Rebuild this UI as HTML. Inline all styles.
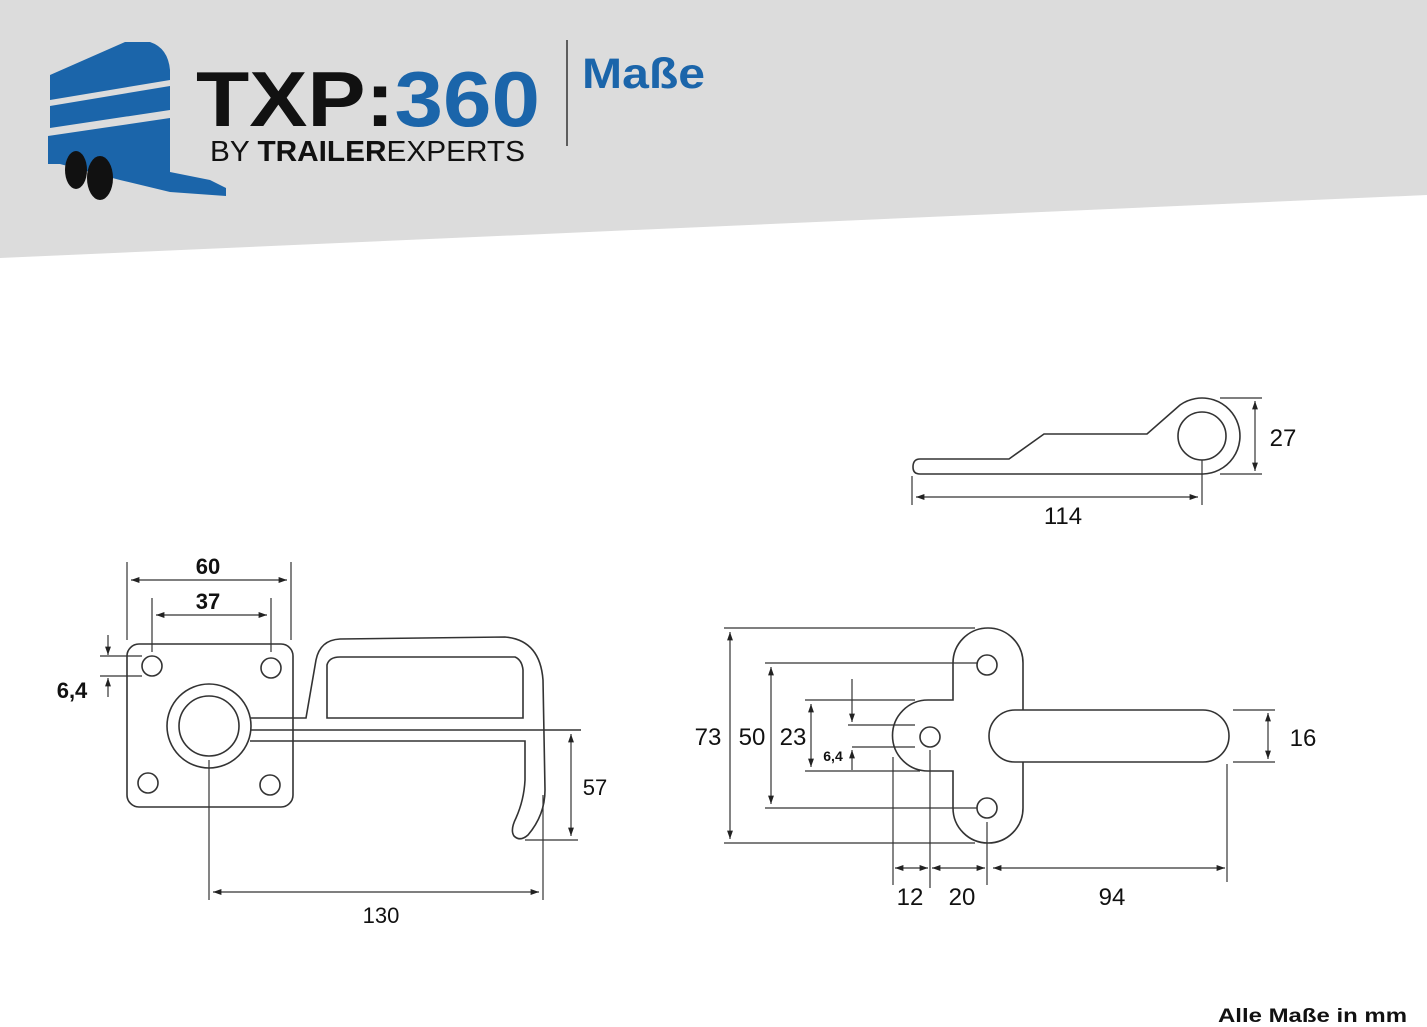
<!DOCTYPE html>
<html><head><meta charset="utf-8"><style>
html,body{margin:0;padding:0;background:#fff}
svg{display:block}
text{font-family:"Liberation Sans","DejaVu Sans",sans-serif}
</style></head><body>
<svg width="1427" height="1027" viewBox="0 0 1427 1027" xmlns="http://www.w3.org/2000/svg">
<defs>
<marker id="a" viewBox="0 0 10 10" refX="10" refY="5" markerWidth="7" markerHeight="7" orient="auto-start-reverse"><path d="M0,1.5 L10,5 L0,8.5 z" fill="#222"/></marker>
</defs>
<polygon points="0,0 1427,0 1427,195 0,258" fill="#dcdcdc"/>
<!-- logo -->
<g fill="#1b65aa">
<path d="M50,75 L125,42 L150,42 Q168,48 170,70 L170,80 L50,100 z"/>
<path d="M50,106 L170,86 L170,110 L50,128 z"/>
<path d="M48,136 L170,118 L170,172 L210,180 L226,188 L226,196 L170,192 L120,180 L60,164 L48,164 z"/>
</g>
<ellipse cx="76" cy="170" rx="11" ry="19" fill="#111"/>
<ellipse cx="100" cy="178" rx="13" ry="22" fill="#111"/>
<text x="196" y="126" font-size="78" font-weight="bold" fill="#111" textLength="344" lengthAdjust="spacingAndGlyphs">TXP:<tspan fill="#1b65aa">360</tspan></text>
<text x="210" y="161" font-size="29" fill="#111" textLength="315" lengthAdjust="spacingAndGlyphs">BY <tspan font-weight="bold">TRAILER</tspan>EXPERTS</text>
<line x1="567" y1="40" x2="567" y2="146" stroke="#333" stroke-width="1.5"/>
<text x="582" y="88" font-size="43" font-weight="bold" fill="#1b65aa" textLength="123" lengthAdjust="spacingAndGlyphs">Maße</text>

<g fill="none" stroke="#333" stroke-width="1.6">
<!-- left drawing -->
<rect x="127" y="644" width="166" height="163" rx="12"/>
<circle cx="152" cy="666" r="10"/><circle cx="271" cy="668" r="10"/>
<circle cx="148" cy="783" r="10"/><circle cx="270" cy="785" r="10"/>
<circle cx="209" cy="726" r="42"/><circle cx="209" cy="726" r="30"/>
<path d="M250,718 L306,718 L316,660 Q320,640 340,639 L505,637 Q540,640 543,680 L545,790 Q545,815 528,835 Q520,842 514,836 Q510,830 516,818 Q524,800 525,780 L525,741 L250,741"/>
<path d="M327,718 L327,665 Q329,657 340,657 L515,657 Q522,660 523,670 L523,718 Z"/>
<line x1="250" y1="730" x2="581" y2="730"/>
</g>
<g stroke="#333" stroke-width="1.2" fill="none">
<line x1="127" y1="562" x2="127" y2="640"/><line x1="291" y1="562" x2="291" y2="640"/>
<line x1="131" y1="580" x2="287" y2="580" marker-start="url(#a)" marker-end="url(#a)"/>
<line x1="152" y1="598" x2="152" y2="652"/><line x1="271" y1="598" x2="271" y2="652"/>
<line x1="156" y1="615" x2="267" y2="615" marker-start="url(#a)" marker-end="url(#a)"/>
<line x1="100" y1="656" x2="142" y2="656"/><line x1="100" y1="676" x2="142" y2="676"/>
<line x1="108" y1="635" x2="108" y2="655" marker-end="url(#a)"/>
<line x1="108" y1="697" x2="108" y2="678" marker-end="url(#a)"/>
<line x1="571" y1="734" x2="571" y2="836" marker-start="url(#a)" marker-end="url(#a)"/>
<line x1="525" y1="840" x2="578" y2="840"/>
<line x1="209" y1="760" x2="209" y2="900"/><line x1="543" y1="795" x2="543" y2="900"/>
<line x1="213" y1="892" x2="539" y2="892" marker-start="url(#a)" marker-end="url(#a)"/>
</g>
<g font-size="22" fill="#111">
<text x="208" y="574" text-anchor="middle" font-weight="bold">60</text>
<text x="208" y="609" text-anchor="middle" font-weight="bold">37</text>
<text x="72" y="698" text-anchor="middle" font-weight="bold">6,4</text>
<text x="595" y="795" text-anchor="middle">57</text>
<text x="381" y="923" text-anchor="middle">130</text>
</g>

<!-- top right -->
<g fill="none" stroke="#333" stroke-width="1.6">
<path d="M1203,474 L920,474 Q913,474 913,467 Q913,459 920,459 L1009,459 L1044,434 L1147,434 L1180,405 A38,38 0 1 1 1203,474"/>
<circle cx="1202" cy="436" r="24"/>
</g>
<g stroke="#333" stroke-width="1.2" fill="none">
<line x1="1220" y1="398" x2="1262" y2="398"/><line x1="1220" y1="474" x2="1262" y2="474"/>
<line x1="1255" y1="401" x2="1255" y2="471" marker-start="url(#a)" marker-end="url(#a)"/>
<line x1="912" y1="476" x2="912" y2="505"/><line x1="1202" y1="460" x2="1202" y2="505"/>
<line x1="916" y1="497" x2="1198" y2="497" marker-start="url(#a)" marker-end="url(#a)"/>
</g>
<g font-size="24" fill="#111">
<text x="1283" y="446" text-anchor="middle">27</text>
<text x="1063" y="524" text-anchor="middle">114</text>
</g>

<!-- bottom right -->
<g fill="none" stroke="#333" stroke-width="1.6">
<path d="M1023,710 L1023,663 A35,35 0 0 0 953,663 L953,700 L928,700 A35,35 0 0 0 928,771 L953,771 L953,808 A35,35 0 0 0 1023,808 L1023,762"/>
<circle cx="987" cy="665" r="10"/><circle cx="930" cy="737" r="10"/><circle cx="987" cy="808" r="10"/>
<rect x="989" y="710" width="240" height="52" rx="26"/>
</g>
<g stroke="#333" stroke-width="1.2" fill="none">
<line x1="724" y1="628" x2="975" y2="628"/><line x1="724" y1="843" x2="975" y2="843"/>
<line x1="730" y1="632" x2="730" y2="839" marker-start="url(#a)" marker-end="url(#a)"/>
<line x1="765" y1="663" x2="977" y2="663"/><line x1="765" y1="808" x2="977" y2="808"/>
<line x1="771" y1="667" x2="771" y2="804" marker-start="url(#a)" marker-end="url(#a)"/>
<line x1="805" y1="700" x2="915" y2="700"/><line x1="805" y1="771" x2="920" y2="771"/>
<line x1="811" y1="704" x2="811" y2="767" marker-start="url(#a)" marker-end="url(#a)"/>
<line x1="848" y1="725" x2="915" y2="725"/><line x1="852" y1="747" x2="915" y2="747"/>
<line x1="852" y1="679" x2="852" y2="722" marker-end="url(#a)"/>
<line x1="852" y1="770" x2="852" y2="750" marker-end="url(#a)"/>
<line x1="893" y1="757" x2="893" y2="885"/><line x1="930" y1="750" x2="930" y2="888"/>
<line x1="987" y1="822" x2="987" y2="885"/><line x1="1227" y1="764" x2="1227" y2="882"/>
<line x1="895" y1="868" x2="928" y2="868" marker-start="url(#a)" marker-end="url(#a)"/>
<line x1="932" y1="868" x2="985" y2="868" marker-start="url(#a)" marker-end="url(#a)"/>
<line x1="993" y1="868" x2="1225" y2="868" marker-start="url(#a)" marker-end="url(#a)"/>
<line x1="1233" y1="710" x2="1275" y2="710"/><line x1="1233" y1="762" x2="1275" y2="762"/>
<line x1="1268" y1="713" x2="1268" y2="759" marker-start="url(#a)" marker-end="url(#a)"/>
</g>
<g font-size="24" fill="#111">
<text x="708" y="745" text-anchor="middle">73</text>
<text x="752" y="745" text-anchor="middle">50</text>
<text x="793" y="745" text-anchor="middle">23</text>
<text x="833" y="761" text-anchor="middle" font-size="14" font-weight="bold">6,4</text>
<text x="910" y="905" text-anchor="middle">12</text>
<text x="962" y="905" text-anchor="middle">20</text>
<text x="1112" y="905" text-anchor="middle">94</text>
<text x="1303" y="746" text-anchor="middle">16</text>
</g>
<text x="1218" y="1022" font-size="19" font-weight="bold" fill="#111" textLength="189" lengthAdjust="spacingAndGlyphs">Alle Maße in mm</text>
</svg>
</body></html>
